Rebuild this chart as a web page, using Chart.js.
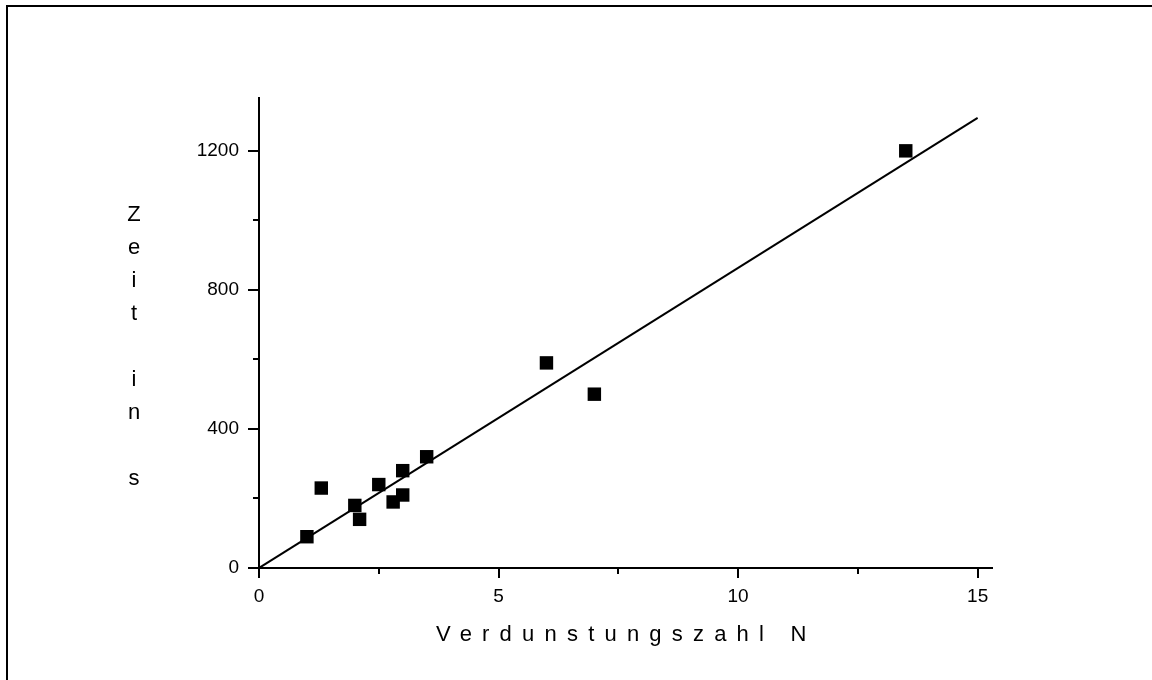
<!DOCTYPE html>
<html>

<head>
  <meta charset="utf-8">
  <style>
    html, body { margin: 0; padding: 0; background: #fff; }
    #wrap { position: relative; width: 1152px; height: 680px; }
    #frame { position: absolute; left: 6px; top: 5px; right: 0; bottom: 0; border-top: 2px solid #000; border-left: 2px solid #000; pointer-events: none; }
  </style>
</head>

<body>

  <div id="wrap">
    <canvas id="myChart" width="1152" height="680"></canvas>
    <div id="frame"></div>
  </div>

  <script src="https://cdn.jsdelivr.net/npm/chart.js@4/dist/chart.umd.min.js"></script>
  <script type="text/javascript">
    // measured points: Verdunstungszahl N vs. Zeit in s
    var pointsN = [1.0, 1.3, 2.0, 2.1, 2.5, 2.8, 3.0, 3.0, 3.5, 6.0, 7.0, 13.5];
    var pointsT = [90, 230, 180, 140, 240, 190, 280, 210, 320, 590, 500, 1200];

    // fitted line
    var lineN = [0, 15];
    var lineT = [0, 1295];

    var xMax = 15.3;
    var yMax = 1352;
    var xMajor = 5, xMinor = 2.5;
    var yMajor = 400, yMinor = 200;

    var xTitle = 'Verdunstungszahl N';
    var yTitle = 'Zeit in s';

    var font = '"Liberation Sans", Arial, sans-serif';

    function toXY(xs, ys) {
      return xs.map(function(v, i) { return { x: v, y: ys[i] }; });
    }

    function isMajor(v, step) {
      return Math.abs(v / step - Math.round(v / step)) < 1e-6;
    }

    // axis titles: x with wide letter spacing, y stacked letter by letter
    var titlePlugin = {
      id: 'titles',
      afterDraw: function(chart) {
        var ctx = chart.ctx;
        ctx.save();
        ctx.fillStyle = '#000';
        ctx.font = '22px ' + font;
        ctx.textBaseline = 'alphabetic';
        ctx.textAlign = 'left';
        ctx.letterSpacing = '10.2px';
        ctx.fillText(xTitle, 436, 641);
        ctx.letterSpacing = '0px';
        ctx.textAlign = 'center';
        var letters = yTitle.split('');
        letters.forEach(function(ch, i) {
          ctx.fillText(ch, 134, 221 + i * 33);
        });
        ctx.restore();
      }
    };

    var ctx = document.getElementById('myChart').getContext('2d');
    var chart = new Chart(ctx, {
      type: 'scatter',
      data: {
        datasets: [{
          data: toXY(pointsN, pointsT),
          pointStyle: 'rect',
          pointRadius: 9.5,
          pointHoverRadius: 9.5,
          backgroundColor: '#000',
          borderWidth: 0
        }, {
          type: 'line',
          data: toXY(lineN, lineT),
          borderColor: '#000',
          borderWidth: 2,
          pointRadius: 0,
          fill: false
        }]
      },
      options: {
        responsive: false,
        animation: false,
        events: [],
        layout: { padding: { left: 0, top: 98, right: 160, bottom: 0 } },
        plugins: { legend: { display: false }, tooltip: { enabled: false } },
        scales: {
          x: {
            type: 'linear', min: 0, max: xMax,
            afterFit: function(scale) { scale.height = 112; },
            border: { display: true, color: '#000', width: 2 },
            grid: {
              drawOnChartArea: false, drawTicks: true, tickLength: 10, color: '#000', lineWidth: 2,
              // bottom ticks start at the axis: minor ones only draw the first 5px
              tickBorderDash: function(c) { return isMajor(c.tick.value, xMajor) ? [] : [5, 50]; }
            },
            ticks: {
              stepSize: xMinor, includeBounds: false, autoSkip: false, maxRotation: 0, padding: 7,
              color: '#000', font: { family: font, size: 19 },
              callback: function(v) { return isMajor(v, xMajor) ? String(v) : ''; }
            }
          },
          y: {
            type: 'linear', min: 0, max: yMax,
            afterFit: function(scale) { scale.width = 259; },
            border: { display: true, color: '#000', width: 2 },
            grid: {
              drawOnChartArea: false, drawTicks: true, tickLength: 11, color: '#000', lineWidth: 2,
              // left ticks start outside: minor ones skip the outer half
              tickBorderDash: function(c) { return isMajor(c.tick.value, yMajor) ? [] : [5, 5]; },
              tickBorderDashOffset: function(c) { return isMajor(c.tick.value, yMajor) ? 0 : 5; }
            },
            ticks: {
              stepSize: yMinor, includeBounds: false, autoSkip: false, padding: 9,
              color: '#000', font: { family: font, size: 19 },
              callback: function(v) { return isMajor(v, yMajor) ? String(v) : ''; }
            }
          }
        }
      },
      plugins: [titlePlugin]
    });
  </script>
</body>

</html>
